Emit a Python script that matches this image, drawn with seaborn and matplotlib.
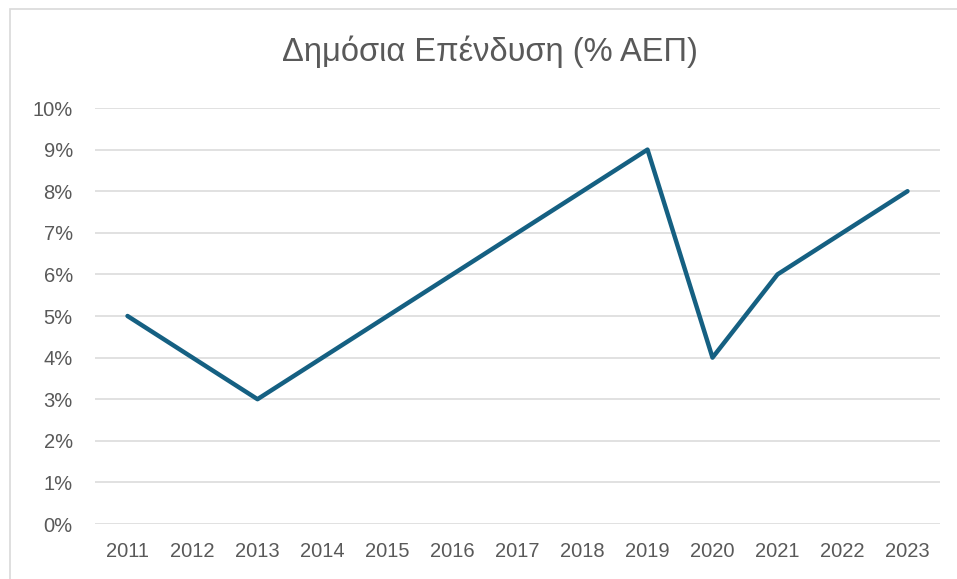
import matplotlib
matplotlib.use("Agg")
import pandas as pd
import matplotlib.pyplot as plt
import seaborn as sns
from matplotlib.ticker import FuncFormatter, MultipleLocator
from matplotlib.patches import Rectangle

years = ["2011", "2012", "2013", "2014", "2015", "2016", "2017",
         "2018", "2019", "2020", "2021", "2022", "2023"]
investment = [5, 4, 3, 4, 5, 6, 7, 8, 9, 4, 6, 7, 8]

df = pd.DataFrame({"year": years, "value": investment})

sns.set_style("white")
plt.rcParams["font.family"] = ["Liberation Sans", "DejaVu Sans"]

fig = plt.figure(figsize=(9.57, 5.79), dpi=100)
ax = fig.add_axes([95 / 957, 55 / 579, 845 / 957, 416 / 579])

sns.lineplot(data=df, x="year", y="value", ax=ax, color="#156082",
             linewidth=3.2, sort=False)

ax.set_xlim(-0.5, len(years) - 0.5)
ax.set_ylim(0, 10)
ax.yaxis.set_major_locator(MultipleLocator(1))
ax.yaxis.set_major_formatter(FuncFormatter(lambda v, p: f"{v:.0f}%"))
ax.grid(axis="y", color="#d9d9d9", linewidth=1.1)
ax.set_axisbelow(True)
for s in ax.spines.values():
    s.set_visible(False)
ax.tick_params(axis="both", length=0, labelsize=14.5, colors="#595959")
ax.tick_params(axis="y", pad=16)
ax.tick_params(axis="x", pad=13)
ax.set_xlabel("")
ax.set_ylabel("")

fig.text(490 / 957, 1 - 52 / 579, "Δημόσια Επένδυση (% ΑΕΠ)",
         ha="center", va="center", fontsize=23.5, color="#595959",
         family=["Liberation Sans Narrow", "Liberation Sans", "DejaVu Sans"])

fig.patches.append(Rectangle((10 / 957, -0.01), 1.0, 1 - 9 / 579 + 0.01,
                             transform=fig.transFigure, fill=False,
                             edgecolor="#d9d9d9", linewidth=1.2))

fig.savefig("out.png", dpi=100, facecolor="white")
